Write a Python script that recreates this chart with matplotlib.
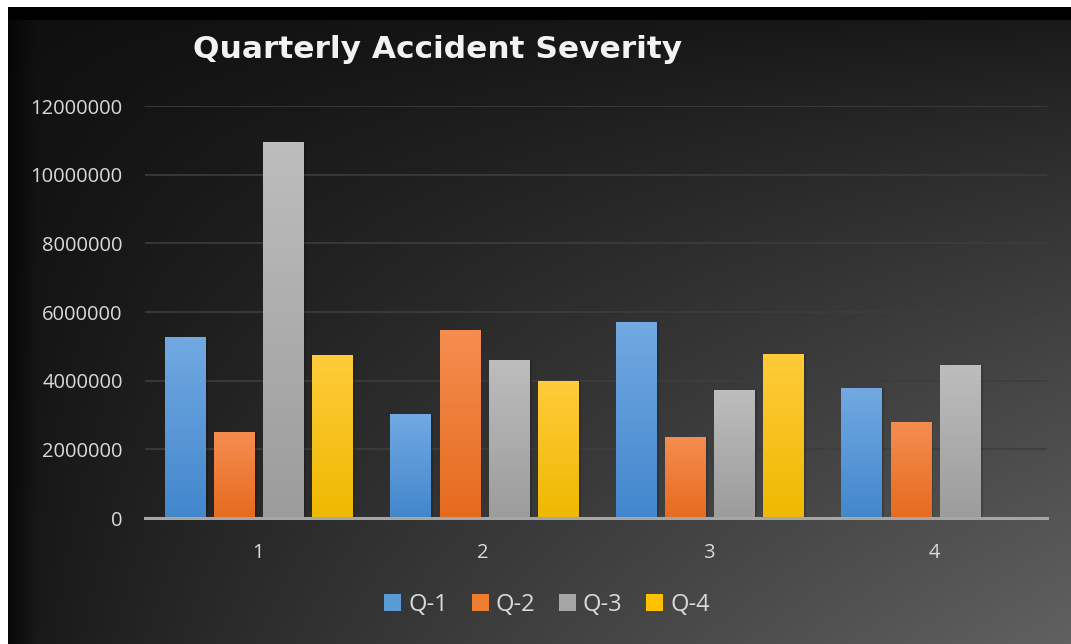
import numpy as np
import matplotlib.pyplot as plt
from matplotlib.colors import to_rgb
from matplotlib.patches import Patch

quarters = ["1", "2", "3", "4"]
series = ["Q-1", "Q-2", "Q-3", "Q-4"]
q1 = [5280000, 3030000, 5710000, 3800000]
q2 = [2500000, 5480000, 2370000, 2790000]
q3 = [10950000, 4610000, 3720000, 4450000]
q4 = [4760000, 3980000, 4780000, 0]
yticks = [0, 2000000, 4000000, 6000000, 8000000, 10000000, 12000000]

top_cols = ["#72a9e2", "#f58d50", "#bdbdbd", "#ffcb3a"]
bot_cols = ["#4287cd", "#e66b1e", "#9c9c9c", "#efb900"]
mid_cols = ["#5b9bd5", "#ed7d31", "#a5a5a5", "#ffc000"]

W, H = 1071, 644
fig = plt.figure(figsize=(W / 100, H / 100), dpi=100)

# background: dark top-left to grey bottom-right
yy, xx = np.mgrid[0:H, 0:W]
u = xx / W
w = yy / H
v = 0.06 + 0.29 * (u * w) ** 0.75 + 0.03 * (u + w) / 2
fade = np.clip((xx - 8) / 28.0, 0, 1) * 0.6 + 0.4
v = v * np.where(xx < 36, fade, 1)
v[(yy >= 7) & (yy < 20)] = 0.0
bg = np.dstack([v, v, v])
bg[:7, :] = 1.0
bg[:, :8] = 1.0
bg_ax = fig.add_axes([0, 0, 1, 1])
bg_ax.imshow(bg, aspect="auto", interpolation="bilinear")
bg_ax.axis("off")

ax = fig.add_axes([145 / W, 1 - 518 / H, (1047 - 145) / W, (518 - 106) / H])
ax.set_facecolor("none")

x = np.arange(len(quarters))
pitch = 0.218
bw = 0.178
grad = np.linspace(0, 1, 64).reshape(-1, 1)
for j, vals in enumerate([q1, q2, q3, q4]):
    bars = ax.bar(x + (j - 1.5) * pitch + 0.004, vals, bw, color=mid_cols[j],
                  zorder=3, label=series[j])
    c0 = np.array(to_rgb(bot_cols[j]))
    c1 = np.array(to_rgb(top_cols[j]))
    img = c0 + (c1 - c0) * grad[:, :, None]
    for b in bars:
        if b.get_height() <= 0:
            continue
        x0, y0 = b.get_x(), b.get_y()
        # soft shadow on the right
        ax.bar(x0 + b.get_width(), b.get_height(), 0.012, align="edge",
               color="black", alpha=0.15, zorder=2)
        im = ax.imshow(img, extent=[x0, x0 + b.get_width(), y0, y0 + b.get_height()],
                       origin="lower", aspect="auto", zorder=4)
        im.set_clip_path(b)

ax.set_xlim(-0.5, 3.5)
ax.set_ylim(0, 12000000)
ax.set_xticks(x)
ax.set_xticklabels(quarters)
ax.set_yticks(yticks)
ax.set_yticklabels([str(t) for t in yticks])
ax.grid(axis="y", color="#3d3d3d", linewidth=1.2, zorder=0)
for s in ["top", "right", "left"]:
    ax.spines[s].set_visible(False)
ax.spines["bottom"].set_color("#a6a6a6")
ax.spines["bottom"].set_linewidth(2.2)
ax.spines["bottom"].set_zorder(5)
ax.tick_params(length=0, colors="#d9d9d9", labelsize=14.5)
ax.tick_params(axis="y", pad=16)
ax.tick_params(axis="x", pad=18)
for lab in ax.get_xticklabels() + ax.get_yticklabels():
    lab.set_fontfamily("Open Sans")

fig.text(438 / W, 1 - 49 / H, "Quarterly Accident Severity", color="#f2f2f2",
         fontsize=22.5, fontweight="bold", family="DejaVu Sans",
         ha="center", va="center")

handles = [Patch(facecolor=mid_cols[j], label=series[j]) for j in range(4)]
leg = fig.legend(handles=handles, loc="center", bbox_to_anchor=(547 / W, 1 - 605 / H),
                 ncol=4, frameon=False, handlelength=0.72, handleheight=0.72,
                 handletextpad=0.3, columnspacing=1.0,
                 prop={"family": "Open Sans", "size": 17})
for t in leg.get_texts():
    t.set_color("#d9d9d9")

fig.savefig("out.png", dpi=100)
